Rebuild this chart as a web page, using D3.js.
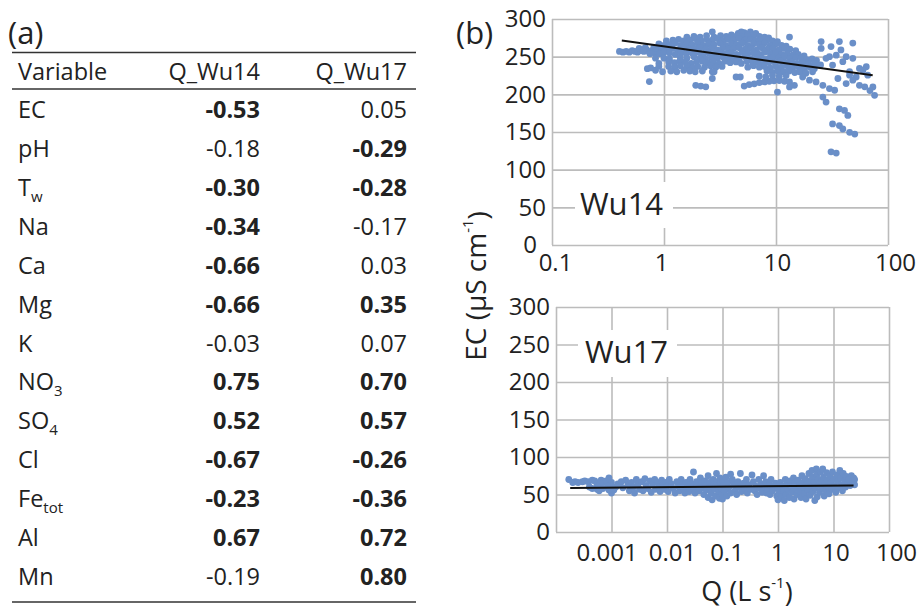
<!DOCTYPE html>
<html>
<head>
<meta charset="utf-8">
<script src="https://cdn.jsdelivr.net/npm/d3@7"></script>
<style>
  body { margin: 0; background: #fff; }
  svg { display: block; font-family: "Open Sans", sans-serif; }
</style>
</head>
<body>
<svg id="fig" width="918" height="609"></svg>
<script>
// ---------- (a) correlation of each variable with discharge ----------
const variableNames = ["EC", "pH", "T", "Na", "Ca", "Mg", "K", "NO", "SO", "Cl", "Fe", "Al", "Mn"];
const variableSubs  = ["",   "",   "w", "",   "",   "",   "",  "3",  "4",  "",   "tot", "",  ""];
const wu14Corr = [-0.53, -0.18, -0.30, -0.34, -0.66, -0.66, -0.03, 0.75, 0.52, -0.67, -0.23, 0.67, -0.19];
const wu17Corr = [0.05, -0.29, -0.28, -0.17, 0.03, 0.35, 0.07, 0.70, 0.57, -0.26, -0.36, 0.72, 0.80];
const wu14Significant = [1, 0, 1, 1, 1, 1, 0, 1, 1, 1, 1, 1, 0];
const wu17Significant = [0, 1, 1, 0, 0, 1, 0, 1, 1, 1, 1, 1, 1];
const tableHeaders = ["Variable", "Q_Wu14", "Q_Wu17"];

// ---------- (b) EC versus discharge, [Q (L/s), EC (µS/cm)] ----------
const wu14Points = [
  // low-flow band
  [0.40,257],[0.43,256],[0.46,257],[0.49,256],[0.52,258],[0.55,257],[0.58,256],[0.62,258],[0.66,257],
  [0.70,259],[0.74,256],[0.78,258],[0.83,255],[0.88,257],[0.60,261],[0.68,262],[0.75,254],[0.81,262],
  [0.71,234],[0.76,235],[0.84,232],[0.90,237],[0.74,217],[0.97,230],[0.90,241],[0.84,248],
  // main cloud
  [2.7,283],[4.6,281],[5.2,282],[5.9,283],[6.6,281],[4.9,283],
  [1.6,276],[1.85,277],[2.1,276],[2.4,278],[3.2,278],[3.6,277],[4.0,279],[4.5,278],[5.0,277],
  [5.6,279],[6.3,278],[7.1,277],[7.9,276],[8.6,275],[13.2,276],[2.8,276],
  [1.05,271],[1.2,272],[1.35,273],[1.5,271],[1.7,272],[1.9,274],[2.15,271],[2.4,273],[2.7,272],
  [3.0,274],[3.35,271],[3.75,273],[4.2,272],[4.7,274],[5.3,272],[5.9,273],[6.6,271],[7.4,273],
  [8.3,272],[9.3,271],[10.3,270],
  [0.9,267],[1.0,265],[1.12,266],[1.26,268],[1.41,265],[1.58,267],[1.78,266],[2.0,268],[2.24,265],
  [2.5,267],[2.8,266],[3.15,268],[3.55,265],[4.0,267],[4.45,266],[5.0,268],[5.6,265],[6.3,267],
  [7.1,266],[7.9,268],[8.9,265],[10,267],[11.2,265],[12.3,264],
  [0.85,261],[0.95,260],[1.06,262],[1.19,261],[1.33,259],[1.5,262],[1.68,260],[1.88,261],[2.1,262],
  [2.37,260],[2.66,261],[2.99,259],[3.35,262],[3.76,260],[4.2,261],[4.7,262],[5.3,260],[5.95,261],
  [6.7,259],[7.5,262],[8.4,260],[9.4,261],[10.6,259],[11.9,261],[13.3,260],[15,258],
  [0.92,254],[1.0,256],[1.12,255],[1.26,253],[1.41,256],[1.58,254],[1.78,255],[2.0,256],[2.24,254],
  [2.5,255],[2.8,253],[3.15,256],[3.55,254],[4.0,255],[4.45,253],[5.0,256],[5.6,254],[6.3,255],
  [7.1,253],[7.9,256],[8.9,254],[10,255],[11.2,253],[12.6,254],[14.1,252],[15.8,253],[17.8,251],
  [1.0,248],[1.12,247],[1.4,249],[1.6,248],[1.85,250],[2.1,248],[2.35,247],[2.65,249],[3.0,248],
  [3.35,250],[3.75,247],[4.2,249],[4.7,248],[5.3,250],[5.95,247],[6.7,249],[7.5,248],[8.4,247],
  [9.4,249],[10.6,248],[11.9,250],[13.3,247],[15,249],[16.8,248],[18.8,246],[21,247],[23,245],
  [1.1,243],[1.24,242],[1.38,244],[1.55,243],[1.75,241],[1.95,243],[2.2,244],[2.45,242],[2.75,243],
  [3.1,241],[3.5,244],[3.9,242],[4.4,243],[4.9,241],[5.5,244],[6.2,242],[6.9,243],[7.8,241],
  [8.7,243],[9.8,242],[11,244],[12.3,242],[13.8,243],[15.5,241],[17.4,242],[19.5,240],[22,241],[25,239],
  [1.1,237],[1.25,236],[1.4,238],[1.6,237],[1.8,235],[2.0,237],[2.3,236],[2.6,238],[2.9,236],
  [3.3,237],[5.6,236],[6.3,238],[7.1,236],[7.9,237],[8.9,235],[10,237],[11.2,236],[12.6,238],
  [14.1,236],[15.8,237],[17.8,235],[20,236],[22,234],
  [1.15,231],[1.3,230],[1.5,232],[1.7,231],[1.9,230],[2.2,231],[2.7,230],[8.3,231],[9.3,229],
  [10.4,231],[11.7,230],[13.1,231],[14.7,229],[16.5,230],[18.5,228],[16.2,230],[21.2,230],
  // lower branches
  [2.7,221],[2.8,230],[4.4,223],[4.8,223],[1.92,212],[2.13,211],[2.36,210],
  [5.2,211],[5.77,213],[6.4,214],[7.1,215.6],[7.9,216.5],[8.7,217.4],[9.6,218],[10.7,218.3],
  [11.9,217.4],[13.2,216.5],[13.2,209.8],[14.6,212],[10.3,203],
  [7.1,224],[8.1,223],[9.3,225],[10.7,224],[12.3,225],
  [17.3,223],[19.9,218.8],[22.8,216.5],[26.2,212],[30,207.6],[33.4,205.4],[28,189.7],[26.2,196.4],
  // high flows
  [25.3,270],[36.8,270],[48.5,268],[25.3,261],[31,263.4],[38,259],[42.3,250],[48.5,247.8],[30,250],
  [34.5,252],[55.6,234.4],[64,236.6],[45.4,225.4],[55.6,212],[73.3,209.8],[75.9,198.7],[35.7,221],
  [42.3,214.3],[28,247.8],[24.4,238.8],[32,238.8],[39.5,243.3],[45.4,230],[52,223],[59.7,232],
  [66,225.4],[48.5,218.8],[69,205],[62,210],
  [36.8,180.8],[40.9,178.6],[43.8,172],[32,160.7],[36.8,158.5],[39.5,154],[45.4,149.6],[50.5,147.3],
  [31,123.7],[34.5,122]
];

const wu17Points = [
  [0.00017,70],[0.0002,66],[0.00022,67],[0.00025,66],[0.0003,67],[0.00033,68],[0.00038,67],[0.00045,69],
  [0.0005,68],[0.00055,64],[0.0006,62],[0.00065,69],[0.0007,66],[0.0008,68],[0.0009,72],[0.001,66],
  [0.00095,62],[0.0004,60],[0.00045,58],[0.00055,57],[0.0006,55],[0.0007,58],[0.00085,61],[0.001,52],
  [0.0011,56],[0.0009,56],[0.0012,60],
  [0.0013,64],[0.0015,67],[0.0016,59],[0.0018,69],[0.002,63],[0.0021,55],[0.0023,66],[0.0025,60],
  [0.0026,52],[0.0028,70],[0.003,64],[0.0032,57],[0.0035,67],[0.0037,55],[0.004,71],[0.0042,62],
  [0.0045,58],[0.005,68],[0.0052,53],[0.0055,63],[0.006,70],[0.0062,57],[0.0068,66],[0.0072,60],
  [0.0075,54],[0.008,69],[0.0085,63],[0.009,57],[0.0095,66],[0.01,61],[0.0105,54],[0.011,70],
  [0.012,64],[0.013,58],[0.014,52],[0.015,67],[0.016,61],[0.017,55],[0.018,70],[0.019,63],[0.02,57],
  [0.021,52],[0.022,66],[0.024,60],[0.025,54],[0.026,70],[0.028,64],[0.03,80],[0.03,58],[0.032,52],
  [0.034,67],[0.036,61],[0.038,55],[0.04,72],[0.042,65],[0.044,59],[0.046,50],[0.048,68],[0.05,62],
  [0.052,56],[0.055,46],[0.055,75],[0.058,66],[0.06,60],[0.062,52],[0.065,43],[0.068,70],[0.07,63],
  [0.072,57],[0.075,48],[0.078,78],[0.08,67],[0.082,61],[0.085,54],[0.088,45],[0.09,72],[0.092,65],
  [0.095,58],[0.098,50],[0.1,68],
  [0.1,44],[0.105,62],[0.11,55],[0.115,73],[0.12,48],[0.125,66],[0.13,59],[0.14,77],[0.14,52],
  [0.15,70],[0.16,63],[0.17,56],[0.18,50],[0.19,67],[0.2,60],[0.21,78],[0.22,54],[0.24,65],[0.25,58],
  [0.27,70],[0.28,52],[0.3,63],[0.32,57],[0.34,76],[0.36,67],[0.38,55],[0.4,61],[0.42,50],[0.45,70],
  [0.48,58],[0.5,64],[0.52,53],[0.55,75],[0.58,60],[0.6,67],[0.62,52],[0.65,57],[0.7,63],[0.72,50],
  [0.75,70],[0.8,55],[0.85,60],[0.9,65],[0.95,48],
  [1.0,58],[1.0,43],[1.05,52],[1.1,66],[1.15,47],[1.2,61],[1.25,55],[1.3,42],[1.35,70],[1.4,50],
  [1.45,64],[1.5,57],[1.6,46],[1.65,68],[1.7,61],[1.8,53],[1.9,72],[1.95,44],[2.0,65],[2.1,58],
  [2.2,50],[2.3,69],[2.4,62],[2.5,54],[2.6,46],[2.7,75],[2.8,66],[2.9,59],[3.0,51],[3.1,71],[3.2,44],
  [3.3,63],[3.5,56],[3.6,78],[3.7,68],[3.8,49],[4.0,61],[4.1,82],[4.2,73],[4.3,54],[4.5,66],[4.6,42],
  [4.7,59],[4.9,84],[5.0,76],[5.1,47],[5.3,70],[5.5,62],[5.6,53],[5.8,80],[6.0,67],[6.2,58],[6.4,84],
  [6.6,73],[6.8,48],[7.0,64],[7.3,55],[7.5,79],[7.8,69],[8.0,60],[8.3,51],[8.6,75],[9.0,66],[9.3,57],
  [9.6,80],[10,70],
  [10.5,61],[11,53],[11.5,76],[12,68],[12.5,59],[13,82],[13.5,72],[14,63],[14.5,55],[15,78],[16,68],
  [16.5,60],[17,74],[18,64],[19,70],[20,62],[21,75],[22,67],[23,72],[24,70],[24,63]
];

const wu14Trend = [[0.42, 271.4], [73, 225.4]];
const wu17Trend = [[0.00018, 58.8], [23, 61.9]];

const ecTicks = [0, 50, 100, 150, 200, 250, 300];
const wu14QTicks = [0.1, 1, 10, 100];
const wu17QTicks = [0.0001, 0.001, 0.01, 0.1, 1, 10, 100];

// ---------- drawing ----------
const svg = d3.select("#fig");
const ink = "#222";
const fmt = v => v.toFixed(2);

// table
const table = svg.append("g");
table.append("text").attr("x", 8).attr("y", 44).attr("font-size", 31).attr("fill", ink).text("(a)");
const ruleX = [12, 416];
[52.5, 89, 602].forEach(y => {
  table.append("line").attr("x1", ruleX[0]).attr("x2", ruleX[1]).attr("y1", y).attr("y2", y)
    .attr("stroke", "#333").attr("stroke-width", 1.6);
});
const colX = [18, 260, 407];
const colAnchor = ["start", "end", "end"];
tableHeaders.forEach((h, i) => {
  table.append("text").attr("x", colX[i]).attr("y", 80).attr("text-anchor", colAnchor[i])
    .attr("font-size", 23.5).attr("fill", ink).text(h);
});
const rowY = d3.scalePoint().domain(d3.range(variableNames.length)).range([118, 585]);
variableNames.forEach((name, i) => {
  const t = table.append("text").attr("x", colX[0]).attr("y", rowY(i)).attr("font-size", 23.5).attr("fill", ink);
  t.append("tspan").text(name);
  if (variableSubs[i]) t.append("tspan").attr("font-size", 15).attr("dy", 6).text(variableSubs[i]);
  table.append("text").attr("x", colX[1]).attr("y", rowY(i)).attr("text-anchor", "end")
    .attr("font-size", 23.5).attr("fill", ink).attr("font-weight", wu14Significant[i] ? 700 : 400)
    .text(fmt(wu14Corr[i]));
  table.append("text").attr("x", colX[2]).attr("y", rowY(i)).attr("text-anchor", "end")
    .attr("font-size", 23.5).attr("fill", ink).attr("font-weight", wu17Significant[i] ? 700 : 400)
    .text(fmt(wu17Corr[i]));
});

// scatter panels
svg.append("text").attr("x", 456).attr("y", 44).attr("font-size", 31).attr("fill", ink).text("(b)");

function panel(opt) {
  const x = d3.scaleLog().domain(opt.qDomain).range([opt.left, opt.right]);
  const y = d3.scaleLinear().domain([0, 300]).range([opt.bottom, opt.top]);
  const g = svg.append("g");
  const w = opt.right - opt.left, h = opt.bottom - opt.top;

  const gy = g.append("g").attr("transform", `translate(${opt.left},0)`)
    .call(d3.axisLeft(y).tickValues(ecTicks).tickSize(-w).tickPadding(6).tickFormat(d => String(d)));
  const gx = g.append("g").attr("transform", `translate(0,${opt.bottom})`)
    .call(d3.axisBottom(x).tickValues(opt.qTicks).tickSize(-h).tickPadding(opt.xPad)
      .tickFormat(d => opt.qLabels.includes(d) ? String(d) : ""));
  [gx, gy].forEach(a => {
    a.select(".domain").remove();
    a.selectAll(".tick line").attr("stroke", "#bcbcbc").attr("stroke-width", 1.6);
    a.selectAll(".tick text").attr("font-size", 24).attr("fill", ink)
      .attr("font-family", "'Open Sans', sans-serif");
  });
  // small horizontal nudges keep neighbouring Q labels apart
  gx.selectAll(".tick text").attr("dx", (d, i) => opt.xNudge[i] || 0);
  // the zero label sits a little left so it clears the first Q label
  if (opt.shiftZero) gy.selectAll(".tick").filter(d => d === 0).select("text").attr("dx", -opt.shiftZero);

  // station label on a white plate
  g.append("rect").attr("x", opt.box[0]).attr("y", opt.box[1]).attr("width", opt.box[2]).attr("height", opt.box[3])
    .attr("fill", "#fff");
  g.append("text").attr("x", opt.labelX).attr("y", opt.labelY).attr("font-size", 31).attr("fill", ink).text(opt.name);

  g.append("g").selectAll("circle").data(opt.points).join("circle")
    .attr("cx", d => x(d[0])).attr("cy", d => y(d[1])).attr("r", 3.4).attr("fill", "#6a8fc8");

  g.append("path").datum(opt.trend)
    .attr("d", d3.line().x(d => x(d[0])).y(d => y(d[1])))
    .attr("fill", "none").attr("stroke", "#111").attr("stroke-width", 2);
}

panel({
  name: "Wu14", points: wu14Points, trend: wu14Trend,
  qDomain: [0.1, 100], qTicks: wu14QTicks, qLabels: wu14QTicks,
  left: 552, right: 888, top: 19, bottom: 245, xPad: 9, shiftZero: 9,
  xNudge: [3, -3, 1, 7],
  box: [575, 182, 98, 46], labelX: 580, labelY: 215
});
panel({
  name: "Wu17", points: wu17Points, trend: wu17Trend,
  qDomain: [0.0001, 100], qTicks: wu17QTicks, qLabels: [0.001, 0.01, 0.1, 1, 10, 100],
  left: 556, right: 889, top: 307, bottom: 532, xPad: 12, shiftZero: 0,
  xNudge: [0, -5, 5, 4, -1, 2, 7],
  box: [578, 330, 99, 47], labelX: 585, labelY: 363
});

// shared axis titles
const yTitle = svg.append("text").attr("transform", "translate(476,286) rotate(-90)")
  .attr("text-anchor", "middle").attr("dy", "0.36em").attr("font-size", 28).attr("fill", ink);
yTitle.append("tspan").text("EC (µS cm");
yTitle.append("tspan").attr("font-size", 15).attr("dy", "-0.9em").text("-1");
yTitle.append("tspan").attr("dy", "0.55em").text(")");

const xTitle = svg.append("text").attr("x", 747).attr("y", 601)
  .attr("text-anchor", "middle").attr("font-size", 27).attr("fill", ink);
xTitle.append("tspan").text("Q (L s");
xTitle.append("tspan").attr("font-size", 15).attr("dy", "-0.9em").text("-1");
xTitle.append("tspan").attr("dy", "0.55em").text(")");
</script>
</body>
</html>
